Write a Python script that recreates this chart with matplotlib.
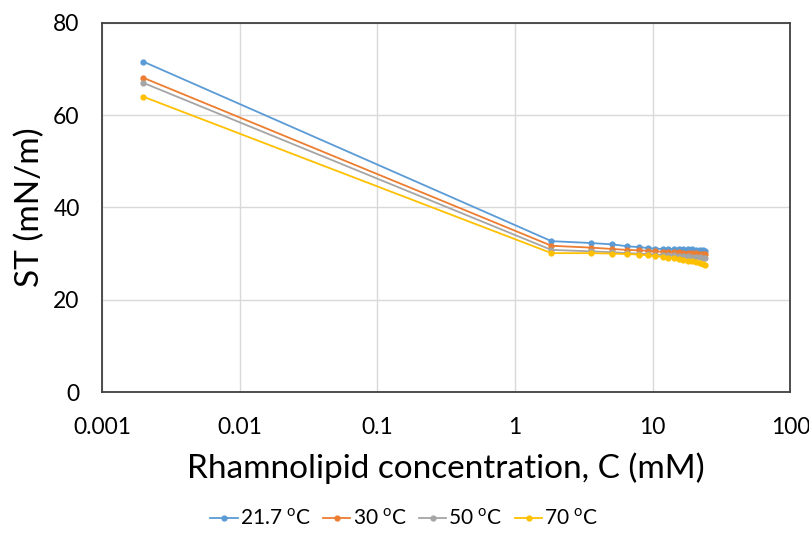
import matplotlib
matplotlib.use('Agg')
import matplotlib.pyplot as plt
import numpy as np

# concentration (mM)
conc = [0.002, 1.84, 3.54, 5.1, 6.5, 7.96, 9.3, 10.4, 11.8, 13.0, 14.2, 15.4,
        16.6, 17.9, 19.3, 20.7, 21.9, 23.2, 24.0]

# surface tension (mN/m) at each temperature
st_21 = [71.6, 32.7, 32.3, 32.0, 31.6, 31.4, 31.2, 31.1, 31.0, 31.0, 31.0, 31.0,
         30.9, 30.9, 30.9, 30.8, 30.8, 30.7, 30.6]
st_30 = [68.1, 31.7, 31.3, 31.0, 30.8, 30.7, 30.6, 30.5, 30.4, 30.4, 30.3, 30.3,
         30.2, 30.2, 30.1, 30.1, 30.0, 30.0, 29.9]
st_50 = [67.0, 30.8, 30.5, 30.3, 30.1, 30.0, 29.9, 29.8, 29.7, 29.6, 29.6, 29.5,
         29.5, 29.4, 29.3, 29.3, 29.2, 29.1, 29.0]
st_70 = [64.0, 30.1, 30.1, 30.0, 29.9, 29.8, 29.6, 29.5, 29.3, 29.1, 29.0, 28.8,
         28.7, 28.5, 28.4, 28.2, 28.0, 27.8, 27.5]

labels = ['21.7 $^{\\rm o}$C', '30 $^{\\rm o}$C', '50 $^{\\rm o}$C', '70 $^{\\rm o}$C']
colors = ['#5B9BD5', '#ED7D31', '#A5A5A5', '#FFC000']
xtick_vals = [0.001, 0.01, 0.1, 1, 10, 100]
xtick_labels = ['0.001', '0.01', '0.1', '1', '10', '100']

plt.rcParams['font.family'] = ['Lato', 'DejaVu Sans']
plt.rcParams['mathtext.fontset'] = 'custom'
plt.rcParams['mathtext.rm'] = 'Lato'

fig = plt.figure(figsize=(8.09, 5.33), dpi=100)
ax = fig.add_axes([0.126, 0.2645, 0.851, 0.6925])

for ys, c, lab in zip([st_21, st_30, st_50, st_70], colors, labels):
    ax.plot(conc, ys, color=c, lw=1.3, marker='o', ms=3.5, label=lab)

ax.set_xscale('log')
ax.set_xlim(0.001, 100)
ax.set_ylim(0, 80)
ax.set_xticks(xtick_vals)
ax.set_xticklabels(xtick_labels)
ax.set_yticks([0, 20, 40, 60, 80])
ax.minorticks_off()
ax.tick_params(length=0, labelsize=16.5)
ax.tick_params(axis='x', pad=18)
ax.tick_params(axis='y', pad=16)
ax.grid(True, color='#D9D9D9', lw=1)
ax.set_axisbelow(True)
for s in ax.spines.values():
    s.set_color('#404040')
    s.set_linewidth(1.3)

ax.set_xlabel('Rhamnolipid concentration, C (mM)', fontsize=24, labelpad=10)
ax.set_ylabel('ST (mN/m)', fontsize=24, labelpad=6)

fig.legend(loc='center', bbox_to_anchor=(0.5, 0.027), ncol=4, frameon=False,
           fontsize=15, handlelength=1.3, handletextpad=0.1, columnspacing=0.6)

fig.savefig('out.png', dpi=100)
